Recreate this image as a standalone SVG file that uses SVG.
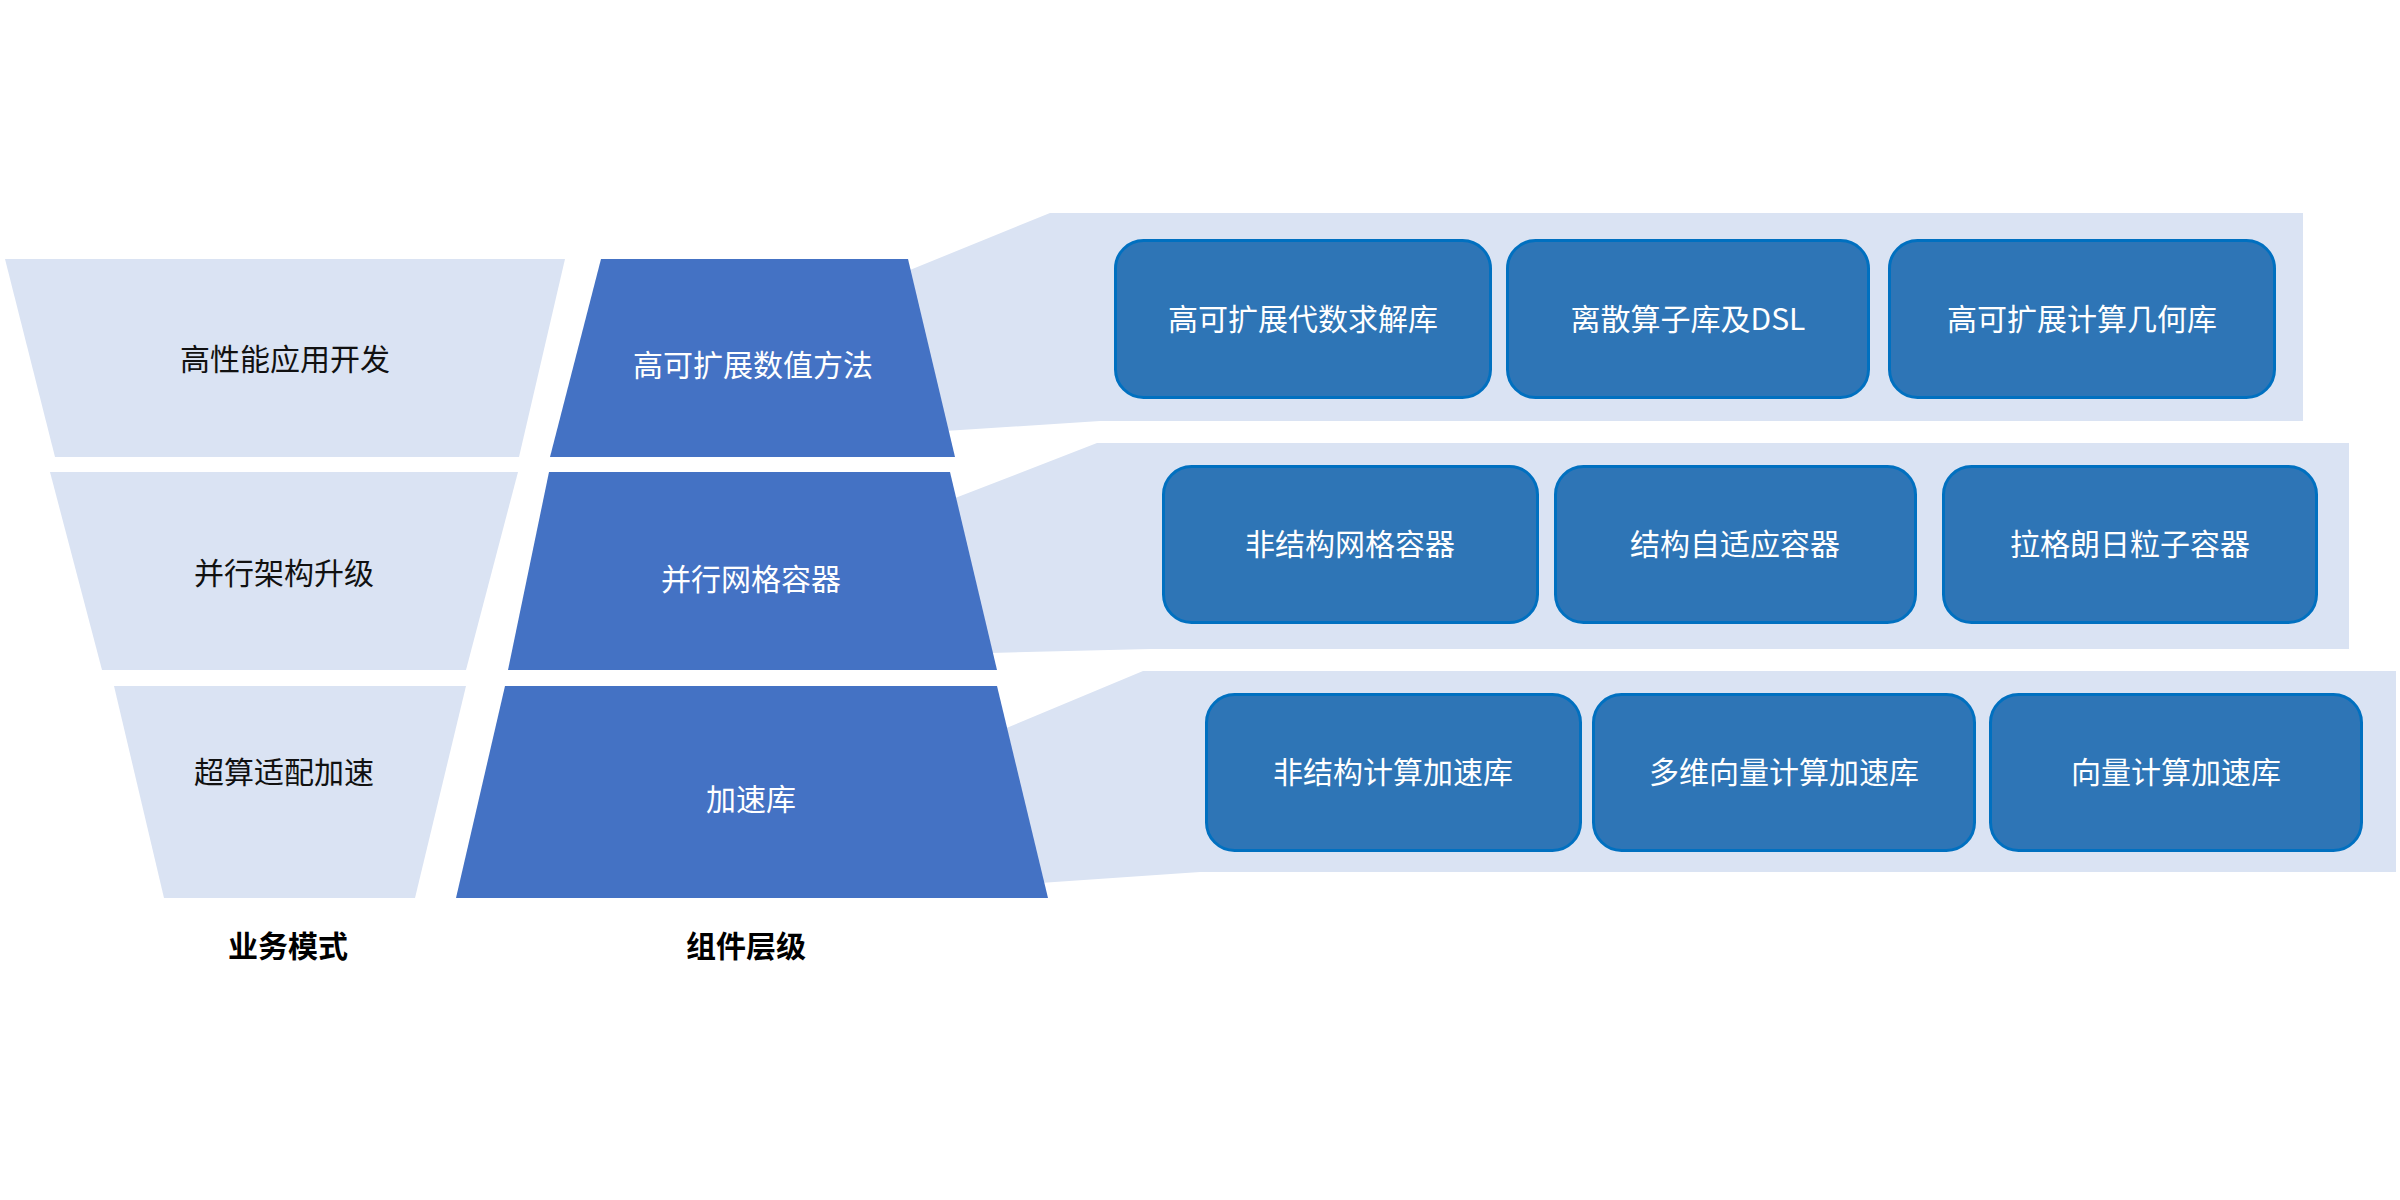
<svg xmlns="http://www.w3.org/2000/svg" width="2400" height="1200" viewBox="0 0 2400 1200">
<style>
.lt{fill:#DAE3F3}
.dk{fill:#4472C4}
.box{fill:#2E75B6;stroke:#0070C0;stroke-width:3}
text{font-family:"Noto Sans CJK SC","Noto Sans",sans-serif;font-size:30px;text-anchor:middle;dominant-baseline:central}
.tb{fill:#111111}
.tw{fill:#FFFFFF}
.hd{fill:#000000;font-weight:bold}
</style>
<rect width="2400" height="1200" fill="#FFFFFF"/>
<g id="connectors">
<polygon class="lt" points="905,272 1050,213 2303,213 2303,421 1100,421 945,431"/>
<polygon class="lt" points="950,500 1097,443 2349,443 2349,649 1150,649 990,653"/>
<polygon class="lt" points="1004,729 1143,671 2396,671 2396,872 1200,872 1040,883"/>
</g>
<g id="biz1"><polygon class="lt" points="5,259 565,259 519,457 55,457"/><text class="tb" x="285" y="357">高性能应用开发</text></g>
<g id="biz2"><polygon class="lt" points="50,472 518,472 466,670 102,670"/><text class="tb" x="284" y="571">并行架构升级</text></g>
<g id="biz3"><polygon class="lt" points="114,686 466,686 415,898 164,898"/><text class="tb" x="284" y="770">超算适配加速</text></g>
<g id="comp1"><polygon class="dk" points="601,259 908,259 955,457 550,457"/><text class="tw" x="753" y="363">高可扩展数值方法</text></g>
<g id="comp2"><polygon class="dk" points="549,472 950,472 997,670 508,670"/><text class="tw" x="751" y="577">并行网格容器</text></g>
<g id="comp3"><polygon class="dk" points="505,686 997,686 1048,898 456,898"/><text class="tw" x="751" y="797">加速库</text></g>
<g id="r1b1"><rect class="box" x="1115.5" y="240.5" width="375" height="157" rx="28"/><text class="tw" x="1303" y="317">高可扩展代数求解库</text></g>
<g id="r1b2"><rect class="box" x="1507.5" y="240.5" width="361" height="157" rx="28"/><text class="tw" x="1688" y="317">离散算子库及DSL</text></g>
<g id="r1b3"><rect class="box" x="1889.5" y="240.5" width="385" height="157" rx="28"/><text class="tw" x="2082" y="317">高可扩展计算几何库</text></g>
<g id="r2b1"><rect class="box" x="1163.5" y="466.5" width="374" height="156" rx="28"/><text class="tw" x="1350" y="542">非结构网格容器</text></g>
<g id="r2b2"><rect class="box" x="1555.5" y="466.5" width="360" height="156" rx="28"/><text class="tw" x="1735" y="542">结构自适应容器</text></g>
<g id="r2b3"><rect class="box" x="1943.5" y="466.5" width="373" height="156" rx="28"/><text class="tw" x="2130" y="542">拉格朗日粒子容器</text></g>
<g id="r3b1"><rect class="box" x="1206.5" y="694.5" width="374" height="156" rx="28"/><text class="tw" x="1393" y="770">非结构计算加速库</text></g>
<g id="r3b2"><rect class="box" x="1593.5" y="694.5" width="381" height="156" rx="28"/><text class="tw" x="1784" y="770">多维向量计算加速库</text></g>
<g id="r3b3"><rect class="box" x="1990.5" y="694.5" width="371" height="156" rx="28"/><text class="tw" x="2176" y="770">向量计算加速库</text></g>
<g id="lbl1"><text class="hd" x="288" y="944">业务模式</text></g>
<g id="lbl2"><text class="hd" x="746" y="944">组件层级</text></g>
</svg>
